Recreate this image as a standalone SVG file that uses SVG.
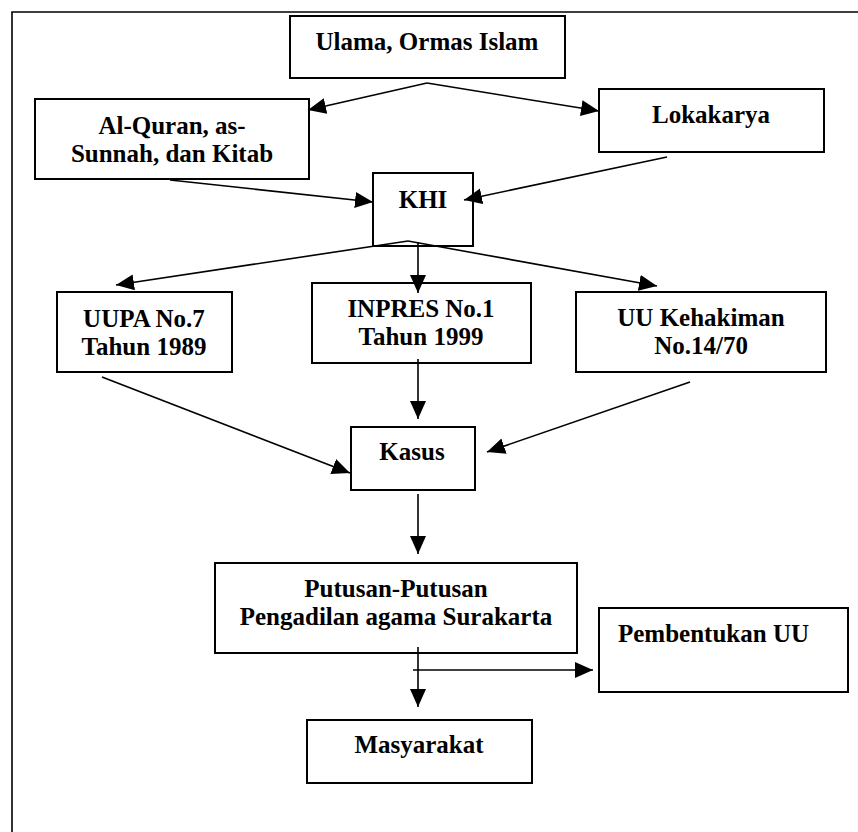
<svg xmlns="http://www.w3.org/2000/svg" width="858" height="832" viewBox="0 0 858 832">
<defs>
<style>
.box{fill:#fff;stroke:#000;stroke-width:2}
.t{font-weight:bold;font-size:25px;fill:#000;text-anchor:middle}
.c{fill:none;stroke:#000;stroke-width:1.6}
</style>
<marker id="ah" markerUnits="userSpaceOnUse" markerWidth="19" markerHeight="17" refX="18" refY="8" orient="auto">
<path d="M0,0 L18,8 L0,16 z" fill="#000"/>
</marker>
</defs>
<rect width="858" height="832" fill="#fff"/>
<path d="M12,832 L12,12 L858,12" fill="none" stroke="#000" stroke-width="1.6"/>
<g font-family="'Liberation Serif', 'DejaVu Serif', serif">
<g id="n-ulama"><rect class="box" x="290" y="16" width="275" height="62"/><text class="t" x="427" y="50">Ulama, Ormas Islam</text></g>
<g id="n-alquran"><rect class="box" x="35" y="99" width="274" height="80"/><text class="t" x="172" y="134">Al-Quran, as-</text><text class="t" x="172" y="162">Sunnah, dan Kitab</text></g>
<g id="n-lokakarya"><rect class="box" x="599" y="89" width="225" height="63"/><text class="t" x="711" y="123">Lokakarya</text></g>
<g id="n-khi"><rect class="box" x="373" y="173" width="100" height="73"/><text class="t" x="423" y="208">KHI</text></g>
<g id="n-uupa"><rect class="box" x="57" y="292" width="175" height="80"/><text class="t" x="144" y="327">UUPA No.7</text><text class="t" x="144" y="355">Tahun 1989</text></g>
<g id="n-inpres"><rect class="box" x="312" y="283" width="219" height="80"/><text class="t" x="421" y="317">INPRES No.1</text><text class="t" x="421" y="345">Tahun 1999</text></g>
<g id="n-uuk"><rect class="box" x="576" y="292" width="250" height="80"/><text class="t" x="701" y="326">UU Kehakiman</text><text class="t" x="701" y="354">No.14/70</text></g>
<g id="n-kasus"><rect class="box" x="351" y="427" width="124" height="63"/><text class="t" x="412" y="460">Kasus</text></g>
<g id="n-putusan"><rect class="box" x="215" y="563" width="362" height="90"/><text class="t" x="396" y="597">Putusan-Putusan</text><text class="t" x="396" y="625">Pengadilan agama Surakarta</text></g>
<g id="n-pembentukan"><rect class="box" x="599" y="608" width="249" height="84"/><text class="t" x="618" y="642" text-anchor="start" style="text-anchor:start">Pembentukan UU</text></g>
<g id="n-masyarakat"><rect class="box" x="307" y="720" width="225" height="63"/><text class="t" x="419" y="753">Masyarakat</text></g>
</g>
<g id="connectors">
<path class="c" d="M427,83 L308,110" marker-end="url(#ah)"/>
<path class="c" d="M427,83 L599,111" marker-end="url(#ah)"/>
<path class="c" d="M170,180 L373,202" marker-end="url(#ah)"/>
<path class="c" d="M667,157 L464,200" marker-end="url(#ah)"/>
<path class="c" d="M408,241 L116,285" marker-end="url(#ah)"/>
<path class="c" d="M418,242 L418,293" marker-end="url(#ah)"/>
<path class="c" d="M408,241 L657,286" marker-end="url(#ah)"/>
<path class="c" d="M102,377 L350,473" marker-end="url(#ah)"/>
<path class="c" d="M418,359 L418,419" marker-end="url(#ah)"/>
<path class="c" d="M690,382 L487,452" marker-end="url(#ah)"/>
<path class="c" d="M418,494 L418,554" marker-end="url(#ah)"/>
<path class="c" d="M418,647 L418,707" marker-end="url(#ah)"/>
<path class="c" d="M413,670 L593,670" marker-end="url(#ah)"/>
</g>
</svg>
